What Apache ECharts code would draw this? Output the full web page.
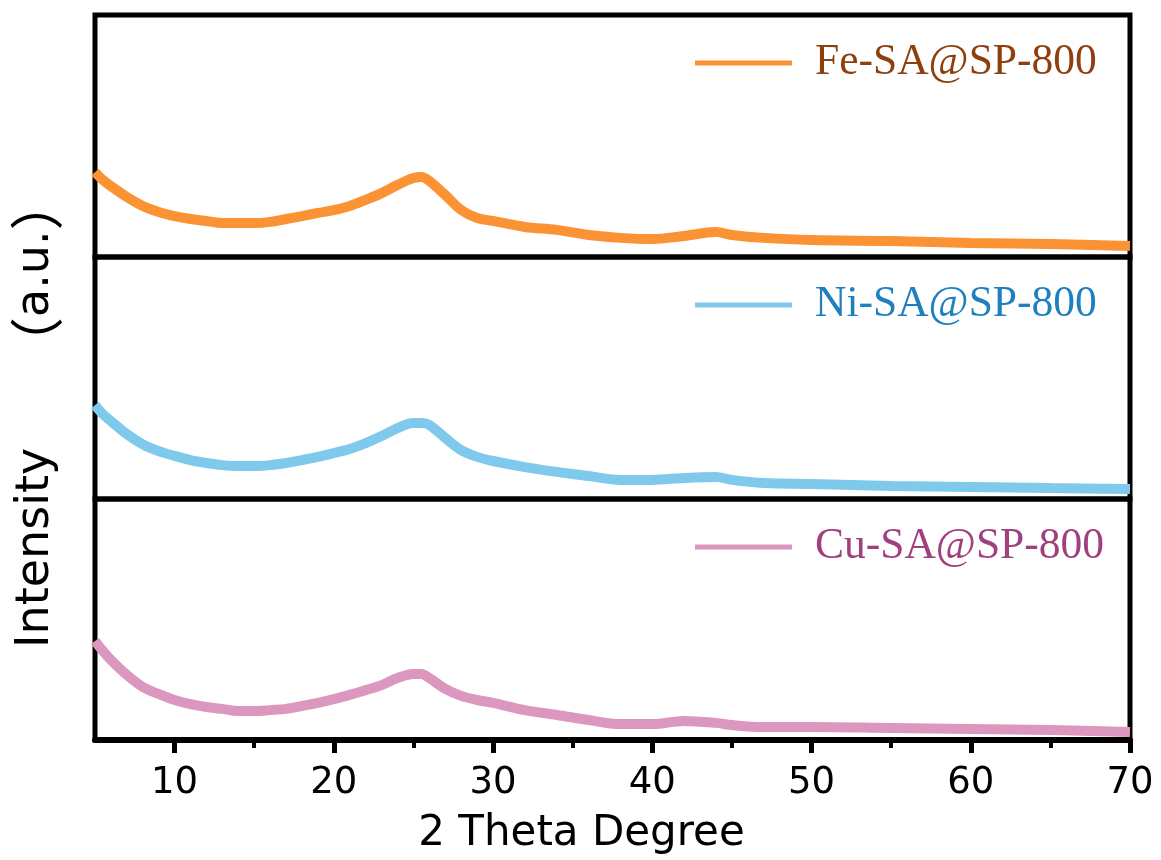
<!DOCTYPE html>
<html>
<head>
<meta charset="utf-8">
<script src="https://cdn.jsdelivr.net/npm/echarts@6/dist/echarts.min.js"></script>
<style>
    html, body { margin: 0; padding: 0; background: #fff; }
    #main { width: 1161px; height: 860px; }
</style>
</head>
<body>
<div id="main"></div>
<script>
// 2 theta 取样点
const theta = [5, 5.5, 6, 7, 8, 9, 10, 11, 12, 13, 14, 15, 16, 17, 18, 19, 20, 21, 22, 23, 24, 25, 25.5, 26, 27, 28, 29, 30, 32, 34, 36, 38, 40, 42, 44, 45, 47, 50, 55, 60, 65, 70];
const feVals = [35.1, 31.8, 29.3, 24.8, 21.1, 18.6, 16.9, 15.7, 14.9, 14.0, 14.0, 14.0, 14.5, 15.7, 16.9, 18.2, 19.4, 21.1, 23.6, 26.4, 29.8, 32.6, 33.1, 31.4, 25.6, 19.4, 16.1, 14.9, 12.4, 11.2, 9.1, 7.9, 7.4, 8.7, 10.3, 9.1, 7.9, 7.0, 6.6, 5.8, 5.4, 4.5];
const niVals = [38.8, 35.0, 32.2, 26.8, 22.6, 19.8, 17.8, 16.1, 14.9, 14.0, 13.6, 13.6, 14.0, 14.9, 16.1, 17.4, 19.0, 20.7, 23.1, 26.0, 29.3, 31.4, 31.4, 30.6, 25.2, 20.2, 17.4, 15.7, 13.2, 11.2, 9.5, 7.9, 7.9, 8.7, 9.1, 7.9, 6.6, 6.2, 5.4, 5.0, 4.5, 4.1];
const cuVals = [41.1, 36.9, 33.2, 27.0, 22.0, 19.1, 16.6, 14.9, 13.7, 12.9, 12.0, 12.0, 12.4, 12.9, 14.1, 15.4, 17.0, 18.7, 20.7, 22.8, 25.7, 27.4, 27.4, 25.7, 21.2, 18.3, 16.6, 15.4, 12.4, 10.4, 8.3, 6.6, 6.6, 7.9, 7.1, 6.2, 5.4, 5.4, 5.0, 4.6, 4.1, 3.3];
const names = ['Fe-SA@SP-800', 'Ni-SA@SP-800', 'Cu-SA@SP-800'];
const majorTicks = [10, 20, 30, 40, 50, 60, 70];
const minorTicks = [15, 25, 35, 45, 55, 65];

const lineColors = ['#FB9234', '#7FC9EC', '#DC97BE'];
const textColors = ['#8E3F0E', '#1F80BF', '#A0407E'];

let chart = echarts.init(document.getElementById('main'));

function pairs(vals) {
    return theta.map((t, i) => [t, vals[i]]);
}

const gridTops = [15, 257, 499];
const gridHeights = [242, 242, 241];

let option = {
    backgroundColor: '#fff',
    animation: false,
    grid: gridTops.map((t, i) => ({
        left: 95,
        right: 31,
        top: t,
        height: gridHeights[i],
        show: true,
        borderColor: '#000',
        borderWidth: 5,
        backgroundColor: 'transparent'
    })),
    legend: names.map((n, i) => ({
        data: [n],
        left: 695,
        top: gridTops[i] + 26,
        padding: 0,
        icon: 'rect',
        itemWidth: 97,
        itemHeight: 5,
        selectedMode: false,
        textStyle: {
            color: textColors[i],
            fontFamily: '"Liberation Serif", "Times New Roman", serif',
            fontSize: 43.5,
            padding: [0, 0, 0, 18]
        }
    })),
    xAxis: [
        { gridIndex: 0, type: 'value', min: 5, max: 70, show: false },
        { gridIndex: 1, type: 'value', min: 5, max: 70, show: false },
        {
            gridIndex: 2,
            type: 'value',
            min: 5,
            max: 70,
            position: 'bottom',
            name: '2 Theta Degree',
            nameLocation: 'middle',
            nameGap: 73,
            nameTextStyle: {
                color: '#000',
                fontFamily: '"DejaVu Sans", sans-serif',
                fontSize: 42,
                padding: [0, 62, 0, 0]
            },
            axisLine: { show: true, onZero: false, lineStyle: { color: '#000', width: 6 } },
            axisTick: {
                show: true,
                customValues: majorTicks,
                length: 13,
                lineStyle: { color: '#000', width: 5 }
            },
            axisLabel: {
                customValues: majorTicks,
                color: '#000',
                fontFamily: '"DejaVu Sans", sans-serif',
                fontSize: 37,
                margin: 25
            },
            splitLine: { show: false }
        },
        {
            // 次刻度
            gridIndex: 2,
            type: 'value',
            min: 5,
            max: 70,
            position: 'bottom',
            axisLine: { show: false, onZero: false },
            axisTick: {
                show: true,
                customValues: minorTicks,
                length: 8,
                lineStyle: { color: '#000', width: 4 }
            },
            axisLabel: { show: false },
            splitLine: { show: false }
        }
    ],
    yAxis: [0, 1, 2].map(i => ({
        gridIndex: i,
        type: 'value',
        min: 0,
        max: 100,
        show: false
    })),
    // 纵轴标题
    graphic: [{
        type: 'text',
        x: 36,
        y: 648,
        rotation: Math.PI / 2,
        style: {
            text: 'Intensity',
            fill: '#000',
            fontFamily: '"DejaVu Sans", sans-serif',
            fontSize: 46,
            align: 'left',
            verticalAlign: 'middle'
        }
    }, {
        type: 'text',
        x: 36,
        y: 371,
        rotation: Math.PI / 2,
        style: {
            text: '{p|（}a.u.{p|）}',
            fill: '#000',
            fontFamily: '"DejaVu Sans", sans-serif',
            fontSize: 46,
            align: 'left',
            verticalAlign: 'middle',
            rich: {
                p: {
                    fontFamily: '"Noto Sans CJK SC", sans-serif',
                    fontSize: 54,
                    fill: '#000'
                }
            }
        }
    }],
    series: [feVals, niVals, cuVals].map((vals, i) => ({
        name: names[i],
        type: 'line',
        xAxisIndex: i,
        yAxisIndex: i,
        data: pairs(vals),
        smooth: 0.35,
        showSymbol: false,
        color: lineColors[i],
        lineStyle: { width: 10, color: lineColors[i] }
    }))
};
chart.setOption(option);
</script>
</body>
</html>
